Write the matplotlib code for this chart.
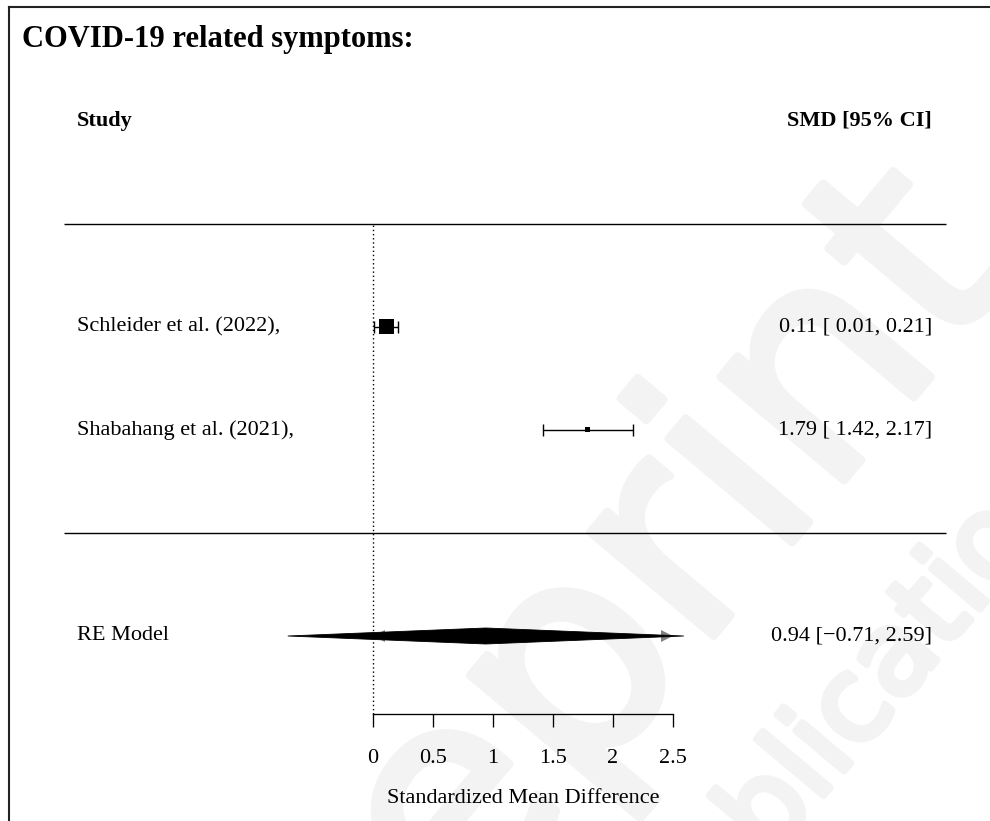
import numpy as np
import matplotlib
matplotlib.use("Agg")
import matplotlib.pyplot as plt
import matplotlib.patheffects as pe
from matplotlib.lines import Line2D

# ---------------- data ----------------
title = "COVID-19 related symptoms:"
col_left = "Study"
col_right = "SMD [95% CI]"
studies = ["Schleider et al. (2022),", "Shabahang et al. (2021),"]
smd = [0.11, 1.79]
ci_low = [0.01, 1.42]
ci_high = [0.21, 2.17]
re_label = "RE Model"
re_est = 0.94
re_low = -0.71
re_high = 2.59
xticks = [0, 0.5, 1, 1.5, 2, 2.5]
xticklabels = ["0", "0.5", "1", "1.5", "2", "2.5"]
xlabel = "Standardized Mean Difference"
watermark = ["Preprint", "publication"]

# ---------------- style ----------------
plt.rcParams['font.family'] = ['Liberation Serif', 'DejaVu Serif']
FS = 16
W, H = 990, 821
X0, PPU = 373.0, 120.0      # pixel of x=0, pixels per unit
Y0, PPR = 636.0, 103.0      # pixel of row 0, pixels per row

def dx(px):
    return (px - X0) / PPU

def dy(py):
    return (Y0 - py) / PPR

fig = plt.figure(figsize=(W / 100, H / 100), dpi=100)
ax = fig.add_axes([0, 0, 1, 1])
ax.set_xlim(dx(0), dx(W))
ax.set_ylim(dy(H), dy(0))
ax.patch.set_visible(False)

# faint watermark behind everything
wm_col = '#f3f3f3'
for txt, (cx, cy), fs, sw in zip(watermark, [(586, 661), (856, 707)], [212, 83], [6, 5]):
    ax.text(cx / W, 1 - cy / H, txt, transform=fig.transFigure, rotation=50,
            rotation_mode='anchor', ha='center', va='center', fontsize=fs,
            family='DejaVu Sans', color=wm_col, zorder=0, clip_on=False,
            path_effects=[pe.withStroke(linewidth=sw, foreground=wm_col)])

k = len(studies)
rows = np.arange(k, 0, -1) + 1          # 3, 2
line_top = k + 2
line_mid = 1
row_re = 0
row_head = k + 3
axis_y = dy(714)

# axis
for s in ['left', 'right', 'top']:
    ax.spines[s].set_visible(False)
ax.spines['bottom'].set_position(('data', axis_y))
ax.spines['bottom'].set_bounds(xticks[0], xticks[-1])
ax.spines['bottom'].set_linewidth(0.95)
ax.set_yticks([])
ax.set_xticks(xticks, xticklabels)
ax.tick_params(axis='x', direction='out', length=9.4, width=0.95, pad=16, labelsize=FS)
ax.set_xlabel(xlabel, fontsize=FS)
ax.xaxis.set_label_coords((xticks[0] + xticks[-1]) / 2, dy(789), transform=ax.transData)

# reference dotted line
ax.plot([0, 0], [axis_y, line_top], ls=(0, (1, 2)), lw=1.0, color='black')

# separators
ax.hlines([line_top, line_mid], dx(64), dx(946), color='black', lw=1.0)

# study CIs and squares
smd_a = np.array(smd)
lo = np.array(ci_low)
hi = np.array(ci_high)
ax.errorbar(smd_a, rows, xerr=[smd_a - lo, hi - smd_a], fmt='none', ecolor='black',
            elinewidth=1.0, capsize=4, capthick=1.0)
se = (hi - lo) / (2 * 1.96)
wi = 1 / se
ps = wi / wi.sum()
ps = (ps - ps.min()) / (ps.max() - ps.min()) + 0.5
side_pt = 10 * ps * 0.72
ax.scatter(smd_a, rows, marker='s', s=side_pt ** 2, color='black', linewidths=0, zorder=3)

# clipping arrows at axis limits
ah, aw = 0.058, 0.1
ax.fill([xticks[-1], xticks[-1] - aw, xticks[-1] - aw], [row_re, row_re + ah, row_re - ah],
        color='#808080', lw=0, zorder=2)
ax.fill([xticks[0], xticks[0] + aw, xticks[0] + aw], [row_re, row_re + ah, row_re - ah],
        color='#808080', lw=0, zorder=2)

# summary diamond
h = 8 / PPR
ax.fill([re_low, re_est, re_high, re_est], [row_re, row_re + h, row_re, row_re - h],
        color='black', lw=0.6, zorder=3)

# texts
def fmt(m, l, u):
    return f"{m:.2f} [{l:5.2f}, {u:.2f}]".replace('-', '\u2212')

ax.text(dx(77), row_head, col_left, fontsize=FS, fontweight='bold', ha='left', va='center')
ax.text(dx(932), row_head, col_right, fontsize=FS, fontweight='bold', ha='right', va='center')
for name, r, m, l, u in zip(studies, rows, smd, ci_low, ci_high):
    ax.text(dx(77), r, name, fontsize=FS, ha='left', va='center')
    ax.text(dx(932), r, fmt(m, l, u), fontsize=FS, ha='right', va='center')
ax.text(dx(77), row_re, re_label, fontsize=FS, ha='left', va='center')
ax.text(dx(932), row_re, fmt(re_est, re_low, re_high), fontsize=FS, ha='right', va='center')

fig.text(22 / W, 1 - 39 / H, title, fontsize=22, fontweight='bold', ha='left', va='center')

# frame (left and top edges)
fig.add_artist(Line2D([8.5 / W, 8.5 / W], [0, 1 - 7.5 / H], color='#222222', lw=1.5))
fig.add_artist(Line2D([8.5 / W, 1], [1 - 7.5 / H, 1 - 7.5 / H], color='#222222', lw=1.5))

fig.savefig('out.png', dpi=100)
